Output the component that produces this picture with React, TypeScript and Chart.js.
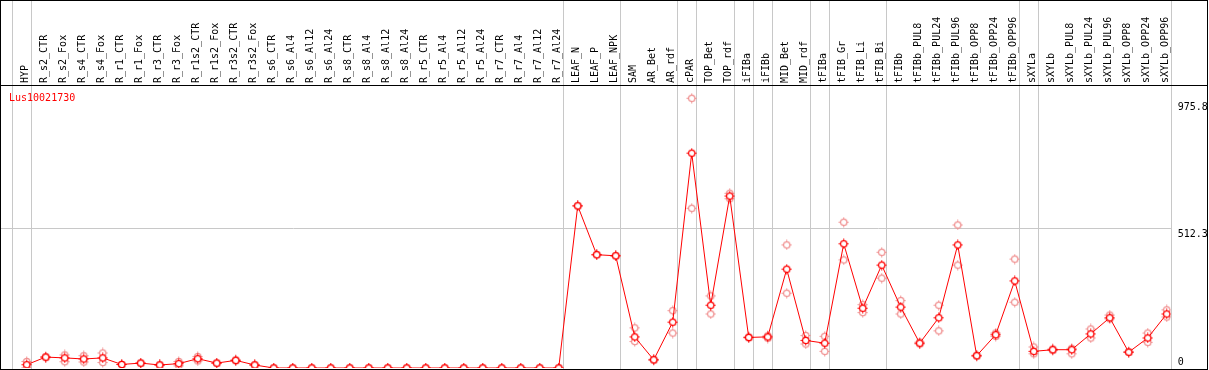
import React, { useEffect, useRef } from "react";
import { Chart, registerables } from "chart.js";

Chart.register(...registerables);

const geneId = "Lus10021730";

const categories = [
  "HYP", "R_s2_CTR", "R_s2_Fox", "R_s4_CTR", "R_s4_Fox", "R_r1_CTR", "R_r1_Fox",
  "R_r3_CTR", "R_r3_Fox", "R_r1s2_CTR", "R_r1s2_Fox", "R_r3s2_CTR", "R_r3s2_Fox",
  "R_s6_CTR", "R_s6_Al4", "R_s6_Al12", "R_s6_Al24", "R_s8_CTR", "R_s8_Al4", "R_s8_Al12",
  "R_s8_Al24", "R_r5_CTR", "R_r5_Al4", "R_r5_Al12", "R_r5_Al24", "R_r7_CTR", "R_r7_Al4",
  "R_r7_Al12", "R_r7_Al24", "LEAF_N", "LEAF_P", "LEAF_NPK", "SAM", "AR_Bet", "AR_rdf",
  "cPAR", "TOP_Bet", "TOP_rdf", "iFIBa", "iFIBb", "MID_Bet", "MID_rdf", "tFIBa",
  "tFIB_Gr", "tFIB_Li", "tFIB_Bi", "tFIBb", "tFIBb_PUL8", "tFIBb_PUL24", "tFIBb_PUL96",
  "tFIBb_OPP8", "tFIBb_OPP24", "tFIBb_OPP96", "sXYLa", "sXYLb", "sXYLb_PUL8",
  "sXYLb_PUL24", "sXYLb_PUL96", "sXYLb_OPP8", "sXYLb_OPP24", "sXYLb_OPP96",
];

const meanValues = [
  12, 40, 37, 33, 37, 13, 18, 11, 16, 34, 18, 28, 11,
  0, 0, 0, 0, 0, 0, 0, 0, 0, 0, 0, 0, 0, 0, 0, 0,
  594, 415, 411, 114, 30, 168, 787, 230, 630, 112, 114, 362, 101, 91,
  455, 219, 377, 223, 91, 184, 451, 45, 122, 319, 61, 67, 67,
  125, 184, 58, 110, 198,
];

const replicateA = [
  24, 42, 48, 45, 55, 13, 18, 11, 24, 42, 18, 30, 13,
  0, 0, 0, 0, 0, 0, 0, 0, 0, 0, 0, 0, 0, 0, 0, 0,
  594, 415, 411, 147, 32, 210, 988, 264, 640, 114, 118, 451, 119, 116,
  534, 232, 424, 247, 95, 230, 524, 47, 128, 399, 77, 70, 72,
  143, 194, 60, 128, 213,
];

const replicateB = [
  1, 38, 23, 22, 20, 13, 18, 11, 8, 26, 18, 26, 9,
  0, 0, 0, 0, 0, 0, 0, 0, 0, 0, 0, 0, 0, 0, 0, 0,
  594, 415, 411, 97, 28, 128, 585, 198, 620, 110, 109, 274, 88, 61,
  396, 203, 329, 198, 88, 136, 377, 43, 116, 241, 52, 64, 52,
  110, 180, 57, 94, 187,
];

const yTickValues = [0, 512.3, 975.8];

// indices of the last category of each group (a separator line follows it)
const groupEnds = [-1, 0, 28, 31, 34, 35, 37, 38, 39, 41, 42, 45, 52, 53, 60];

const SEP_OFFSET = 0.21;
const X_MIN = -1.3526;
const X_MAX = 60.21;
const Y_MAX = 1033;
const FONT = "'DejaVu Sans Mono', 'Liberation Mono', monospace";
const GRID_GREY = "#c8c8c8";

function makeMarker(color: string, fill: string | null) {
  const c = document.createElement("canvas");
  c.width = 11;
  c.height = 11;
  const g = c.getContext("2d")!;
  g.strokeStyle = color;
  g.lineWidth = 1.3;
  g.beginPath();
  g.arc(5.5, 5.5, 3.2, 0, Math.PI * 2);
  if (fill) {
    g.fillStyle = fill;
    g.fill();
  }
  g.stroke();
  g.lineWidth = 1;
  g.beginPath();
  g.moveTo(5.5, 0.5); g.lineTo(5.5, 2.5);
  g.moveTo(5.5, 8.5); g.lineTo(5.5, 10.5);
  g.moveTo(0.5, 5.5); g.lineTo(2.5, 5.5);
  g.moveTo(8.5, 5.5); g.lineTo(10.5, 5.5);
  g.stroke();
  return c;
}

const separatorPlugin = {
  id: "separators",
  beforeDatasetsDraw(chart: any) {
    const { ctx, chartArea, scales } = chart;
    const x = scales.x;
    ctx.save();
    ctx.strokeStyle = GRID_GREY;
    ctx.lineWidth = 1;
    groupEnds.forEach((i) => {
      const px = Math.round(x.getPixelForValue(i + SEP_OFFSET)) + 0.5;
      ctx.beginPath();
      ctx.moveTo(px, 0);
      ctx.lineTo(px, chartArea.bottom + 2);
      ctx.stroke();
    });
    ctx.restore();
  },
};

const framePlugin = {
  id: "frame",
  afterDraw(chart: any) {
    const { ctx } = chart;
    ctx.save();
    ctx.strokeStyle = "#000";
    ctx.lineWidth = 1;
    ctx.beginPath();
    ctx.moveTo(0.5, 0); ctx.lineTo(0.5, 370);
    ctx.moveTo(1207.5, 0); ctx.lineTo(1207.5, 370);
    ctx.moveTo(0, 0.5); ctx.lineTo(1208, 0.5);
    ctx.moveTo(0, 369.5); ctx.lineTo(1208, 369.5);
    ctx.moveTo(0, 85.5); ctx.lineTo(1208, 85.5);
    ctx.stroke();
    ctx.fillStyle = "#ff0000";
    ctx.font = `10px ${FONT}`;
    ctx.textBaseline = "top";
    ctx.textAlign = "left";
    ctx.fillText(geneId, 9, 93);
    ctx.restore();
  },
};

export default function App() {
  const ref = useRef<HTMLCanvasElement | null>(null);

  useEffect(() => {
    if (!ref.current) return;
    const mainMarker = makeMarker("#ff0000", "#ffffff");
    const repMarker = makeMarker("#f09090", null);
    const toPoints = (arr: number[]) => arr.map((v, i) => ({ x: i, y: v }));

    const chart = new Chart(ref.current, {
      type: "line",
      data: {
        datasets: [
          {
            label: "mean",
            data: toPoints(meanValues),
            borderColor: "#ff0000",
            borderWidth: 1,
            tension: 0,
            pointStyle: mainMarker as any,
            pointRadius: 5,
            order: 0,
          },
          {
            label: "rep A",
            data: toPoints(replicateA),
            showLine: false,
            borderColor: "#f09090",
            pointStyle: repMarker as any,
            pointRadius: 5,
            order: 1,
          },
          {
            label: "rep B",
            data: toPoints(replicateB),
            showLine: false,
            borderColor: "#f09090",
            pointStyle: repMarker as any,
            pointRadius: 5,
            order: 2,
          },
        ],
      },
      options: {
        animation: false,
        responsive: false,
        devicePixelRatio: 1,
        layout: { autoPadding: false, padding: { left: 1, top: 0, right: 0, bottom: 2 } },
        plugins: { legend: { display: false }, tooltip: { enabled: false } },
        scales: {
          x: {
            type: "linear",
            position: "top",
            min: X_MIN,
            max: X_MAX,
            bounds: "data",
            afterBuildTicks: (s: any) => {
              s.ticks = categories.map((_, i) => ({ value: i }));
            },
            afterFit: (s: any) => {
              s.height = 86;
              s.paddingLeft = 0;
              s.paddingRight = 0;
              s.paddingTop = 0;
              s.paddingBottom = 0;
            },
            ticks: {
              autoSkip: false,
              minRotation: 90,
              maxRotation: 90,
              padding: 3,
              labelOffset: 11,
              color: "#000",
              font: { family: FONT, size: 10 },
              callback: (_v: any, i: number) => categories[i] ?? "",
            },
            grid: { display: false, drawTicks: false },
            border: { display: false },
          },
          y: {
            type: "linear",
            position: "right",
            min: 0,
            max: Y_MAX,
            afterBuildTicks: (s: any) => {
              s.ticks = yTickValues.map((v) => ({ value: v }));
            },
            afterFit: (s: any) => {
              s.width = 38.3;
              s.paddingLeft = 0;
              s.paddingRight = 0;
              s.paddingTop = 0;
              s.paddingBottom = 0;
            },
            ticks: {
              padding: 7,
              color: "#000",
              font: { family: FONT, size: 10 },
              callback: (v: any) => (v === 0 ? ["0", ""] : ["", String(v)]),
            },
            grid: {
              drawTicks: false,
              lineWidth: 1,
              color: (c: any) =>
                c.tick && c.tick.value === 512.3 ? GRID_GREY : "rgba(0,0,0,0)",
            },
            border: { display: false },
          },
        },
      },
      plugins: [separatorPlugin, framePlugin],
    });
    return () => chart.destroy();
  }, []);

  return (
    <div style={{ position: "fixed", left: 0, top: 0, width: 1209, height: 370, background: "#fff" }}>
      <canvas ref={ref} width={1209} height={370} style={{ width: 1209, height: 370, display: "block" }} />
    </div>
  );
}
